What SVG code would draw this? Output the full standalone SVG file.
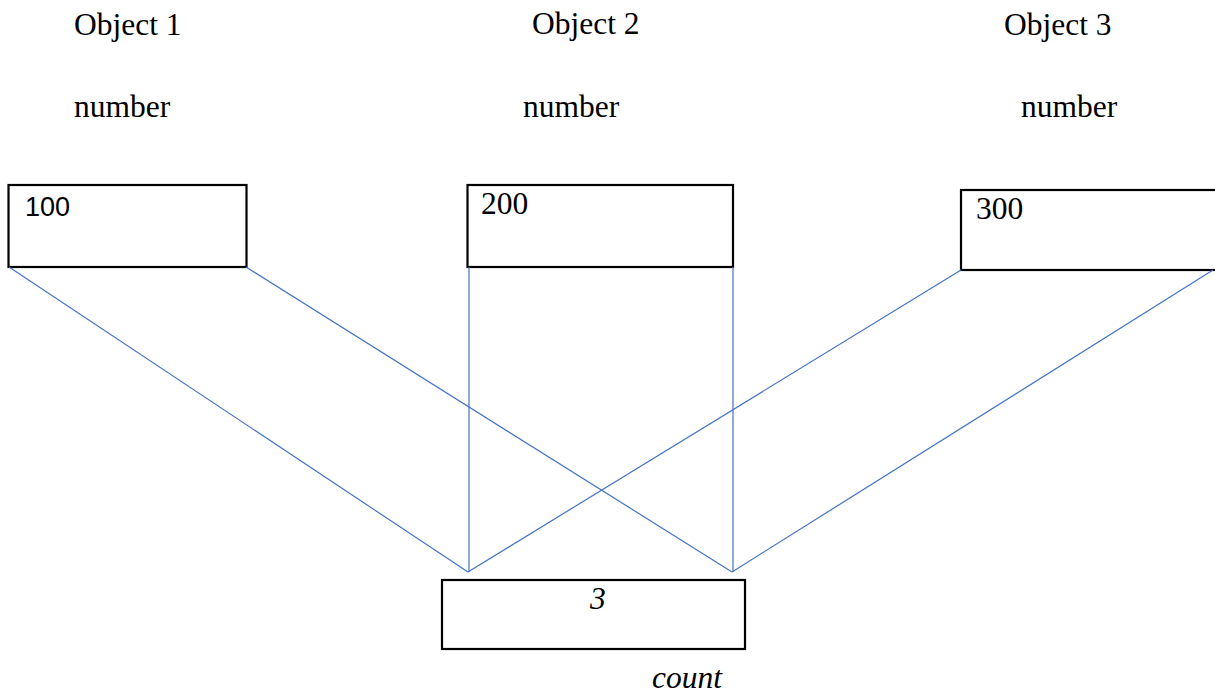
<svg xmlns="http://www.w3.org/2000/svg" width="1215" height="693" viewBox="0 0 1215 693">
<style>
.box{fill:#fff;stroke:#000;stroke-width:2.2}
.lbl{font-family:'Liberation Serif',serif;font-size:31.5px;fill:#000}
.sans{font-family:'Liberation Sans',sans-serif;font-size:27px;fill:#000}
.it{font-style:italic}
.conn line{stroke:#4472C4;stroke-width:1.2}
</style>
<rect width="1215" height="693" fill="#fff"/>
<g id="labels" font-family="Liberation Serif, serif">
<text class="lbl" x="74" y="35">Object 1</text>
<text class="lbl" x="532" y="34">Object 2</text>
<text class="lbl" x="1004" y="35">Object 3</text>
<text class="lbl" x="74" y="117">number</text>
<text class="lbl" x="523" y="117">number</text>
<text class="lbl" x="1021" y="117">number</text>
</g>
<g id="obj1">
<rect class="box" x="8.5" y="185" width="238" height="82"/>
<text class="sans" x="25" y="216">100</text>
</g>
<g id="obj2">
<rect class="box" x="467.5" y="185" width="265.5" height="82"/>
<text class="lbl" x="481" y="214">200</text>
</g>
<g id="obj3">
<rect class="box" x="961" y="190" width="262" height="80"/>
<text class="lbl" x="976" y="219">300</text>
</g>
<g id="count">
<rect class="box" x="442" y="580" width="303" height="69"/>
<text class="lbl it" x="590" y="609">3</text>
<text class="lbl it" x="652" y="688">count</text>
</g>
<g class="conn" id="connectors">
<line x1="9" y1="267" x2="468" y2="572"/>
<line x1="246" y1="267" x2="732" y2="572"/>
<line x1="469" y1="267" x2="469" y2="572"/>
<line x1="733" y1="267" x2="733" y2="572"/>
<line x1="961" y1="270" x2="468" y2="572"/>
<line x1="1213" y1="270" x2="732" y2="572"/>
</g>
</svg>
